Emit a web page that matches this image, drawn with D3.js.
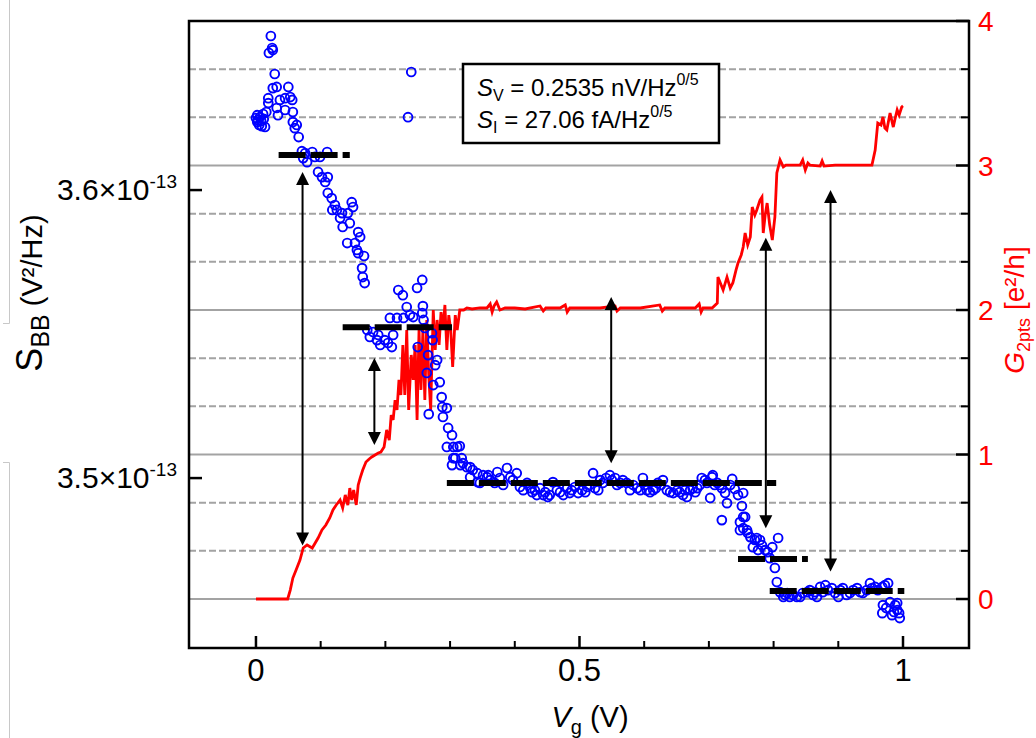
<!DOCTYPE html>
<html><head><meta charset="utf-8">
<script src="https://cdn.jsdelivr.net/npm/d3@7"></script>
<style>body{margin:0;background:#fff;} svg{display:block}</style>
</head><body>
<svg id="chart" width="1036" height="738"></svg>
<script>
// ---- data (S_BB in units of 1e-13 V^2/Hz, G in e^2/h, Vg in V) ----
const vgBlue = [0.000,0.002,0.002,0.003,0.005,0.006,0.008,0.009,0.011,0.012,0.014,0.016,
0.019,0.019,0.020,0.023,0.025,0.026,0.026,0.029,0.032,0.032,0.034,0.037,0.045,0.045,0.050,0.053,0.056,0.057,0.057,0.060,0.063,0.066,0.071,0.073,0.076,0.079,0.087,0.091,0.096,0.099,0.102,0.107,0.110,0.111,0.111,0.117,0.118,0.122,0.125,0.130,0.133,0.134,0.141,0.142,0.145,0.148,0.150,0.153,0.156,0.158,0.158,0.161,0.164,0.165,0.167,0.168,
0.172,0.176,0.181,0.187,0.189,0.192,0.199,0.204,0.207,0.210,0.212,0.218,0.220,0.227,0.228,0.233,0.235,0.238,0.240,0.243,0.249,0.250,0.257,0.257,0.258,0.259,0.261,0.264,0.266,0.267,0.272,0.273,0.274,0.277,0.280,0.284,0.287,0.288,0.289,0.295,0.295,0.297,0.303,0.303,0.305,0.305,0.308,0.311,0.315,0.316,0.318,0.320,0.326,0.331,0.331,0.335,
0.342,0.343,0.346,0.351,0.357,0.359,0.362,0.369,0.373,0.377,0.382,0.388,0.393,0.397,0.403,0.408,0.413,0.419,0.424,0.427,0.431,0.434,0.439,0.444,0.447,0.451,0.454,0.459,0.465,0.470,0.475,0.481,0.485,0.488,0.493,0.498,0.504,0.509,0.512,0.516,0.521,0.524,0.529,0.532,0.536,0.541,0.547,0.550,0.555,0.558,0.563,0.567,0.573,0.578,0.583,0.589,0.594,0.598,0.601,0.604,0.609,0.614,0.618,0.621,0.626,0.629,0.635,0.640,0.645,0.651,0.655,0.660,0.663,0.666,0.671,0.675,0.679,0.682,0.686,0.689,0.694,0.697,0.702,0.705,0.706,0.709,0.713,0.717,0.720,0.720,0.725,0.728,0.733,0.736,0.740,0.745,
0.748,0.748,0.751,0.753,0.753,0.753,0.756,0.759,0.760,0.764,0.768,0.771,0.774,0.776,0.779,0.782,0.787,0.791,0.794,0.798,0.802,0.805,0.807,0.810,0.815,0.818,0.821,0.825,0.830,0.836,0.841,0.845,0.852,0.856,0.861,0.864,0.867,0.872,0.876,0.880,0.884,0.890,0.895,0.900,0.903,0.907,0.913,0.918,0.923,0.929,0.934,0.938,0.944,0.949,0.952,0.957,0.961,0.968,0.968,0.969,0.972,0.974,0.977,0.980,0.983,0.986,0.988,0.991,0.991,0.994,0.995];
const sBB = [3.6250,3.6236,3.6260,3.6243,3.6226,3.6253,3.6240,3.6222,3.6264,3.6247,3.6219,3.6271,
3.6319,3.6302,3.6476,3.6535,3.6493,3.6486,3.6354,3.6403,3.6358,3.6285,3.6260,3.6313,3.6319,3.6278,3.6358,3.6323,3.6313,3.6271,3.6236,3.6215,3.6226,3.6184,3.6135,3.6111,3.6128,3.6097,3.6132,3.6115,3.6063,3.6115,3.6045,3.6028,3.6132,3.6045,3.5990,3.5972,3.5931,3.5948,3.5931,3.5903,3.5920,3.5872,3.5816,3.5920,3.5885,3.5958,3.5941,3.5816,3.5792,3.5854,3.5781,3.5837,3.5729,3.5698,3.5771,3.5677,
3.5514,3.5490,3.5507,3.5479,3.5497,3.5462,3.5479,3.5469,3.5556,3.5455,3.5497,3.5556,3.5653,3.5635,3.5556,3.5594,3.6253,3.5566,3.6410,3.5559,3.5660,3.5455,3.5688,3.5573,3.5597,3.5549,3.5521,3.5365,3.5427,3.5222,3.5503,3.5479,3.5323,3.5392,3.5410,3.5333,3.5281,3.5247,3.5212,3.5243,3.5108,3.5174,3.5149,3.5045,3.5108,3.5069,3.5069,3.5108,3.5111,3.5045,3.5069,3.5052,3.5038,3.5038,3.5003,3.5028,
3.5017,3.4986,3.4983,3.5010,3.5003,3.5010,3.4993,3.4983,3.5021,3.5000,3.4976,3.5035,3.5003,3.4993,3.5017,3.4969,3.4958,3.4983,3.4965,3.4951,3.4958,3.4941,3.4965,3.4941,3.4951,3.4934,3.4941,3.4986,3.4958,3.4951,3.4941,3.4965,3.4948,3.4958,3.4969,3.4948,3.4958,3.4951,3.4969,3.4976,3.5017,3.4965,3.4958,3.4993,3.4983,3.5000,3.5010,3.4993,3.5000,3.4976,3.4983,3.4993,3.4983,3.4958,3.4976,3.4965,3.4958,3.5000,3.4976,3.4958,3.4951,3.4958,3.4965,3.4983,3.4976,3.4993,3.4958,3.4951,3.4948,3.4958,3.4951,3.4941,3.4958,3.4934,3.4958,3.4965,3.4951,3.4965,3.4976,3.5000,3.4993,3.4983,3.4931,3.5003,3.5010,3.4976,3.4983,3.4976,3.4965,3.4854,3.4948,3.4913,3.4976,3.4997,3.4962,3.4941,
3.4847,3.4819,3.4903,3.4948,3.4865,3.4826,3.4865,3.4819,3.4809,3.4795,3.4760,3.4785,3.4792,3.4750,3.4785,3.4767,3.4750,3.4743,3.4722,3.4760,3.4688,3.4639,3.4792,3.4604,3.4587,3.4594,3.4601,3.4587,3.4594,3.4587,3.4587,3.4601,3.4604,3.4611,3.4594,3.4604,3.4587,3.4622,3.4604,3.4628,3.4611,3.4618,3.4601,3.4587,3.4611,3.4618,3.4594,3.4601,3.4611,3.4618,3.4604,3.4601,3.4611,3.4635,3.4618,3.4622,3.4611,3.4622,3.4531,3.4559,3.4628,3.4549,3.4635,3.4569,3.4524,3.4535,3.4559,3.4566,3.4542,3.4531,3.4514];

const vgRed = [0.000,0.049,0.053,0.057,0.062,0.068,0.073,0.079,0.087,0.096,0.102,0.108,0.114,0.119,0.124,0.130,0.134,0.138,0.142,0.145,0.148,0.151,0.155,0.158,0.161,0.165,0.170,0.175,0.179,0.184,0.189,0.193,0.198,0.202,0.206,0.209,0.212,0.215,0.218,0.221,0.224,0.227,0.230,0.233,0.236,0.240,0.243,0.246,0.249,0.252,0.255,0.258,0.261,0.264,0.267,0.270,0.274,0.277,0.280,0.283,0.286,0.289,0.292,0.295,0.298,0.301,0.304,0.308,0.311,0.315,0.321,0.326,0.334,0.346,0.357,0.362,0.365,0.368,0.372,0.377,0.385,0.400,0.416,0.439,0.444,0.448,0.470,0.478,0.481,0.485,0.532,0.555,0.558,0.563,0.594,0.624,0.628,0.632,0.679,0.685,0.688,0.691,0.705,0.713,0.714,0.722,0.728,0.733,0.737,0.742,0.745,0.750,0.753,0.756,0.760,0.764,0.767,0.771,0.774,0.779,0.782,0.784,0.787,0.790,0.794,0.798,0.802,0.805,0.810,0.815,0.819,0.841,0.845,0.849,0.853,0.856,0.872,0.875,0.878,0.895,0.918,0.952,0.957,0.961,0.966,0.969,0.972,0.975,0.980,0.985,0.988,0.991,0.994,0.998,1.000];
const g2pts = [0.000,0.000,0.062,0.145,0.201,0.270,0.353,0.374,0.353,0.422,0.478,0.512,0.561,0.616,0.651,0.685,0.630,0.720,0.650,0.768,0.685,0.754,0.651,0.789,0.837,0.893,0.948,0.969,0.983,0.997,1.010,1.017,1.052,1.170,1.100,1.273,1.239,1.377,1.308,1.516,1.412,1.758,1.412,1.862,1.308,1.689,1.516,1.758,1.239,1.862,1.447,1.862,1.377,1.931,1.550,1.308,2.000,1.723,1.931,1.758,1.986,1.862,2.035,1.723,1.965,1.862,1.606,1.965,1.862,2.000,2.000,2.014,2.007,2.014,2.014,2.042,1.986,2.028,2.055,2.000,2.014,2.014,2.007,2.028,1.993,2.014,2.014,2.035,1.986,2.014,2.014,2.028,1.993,2.014,2.014,2.035,1.993,2.014,2.014,2.042,1.986,2.014,2.014,2.048,2.228,2.138,2.228,2.152,2.187,2.277,2.325,2.381,2.436,2.533,2.450,2.505,2.713,2.657,2.692,2.761,2.782,2.533,2.657,2.740,2.588,2.484,2.644,2.948,3.038,2.990,3.003,3.003,3.038,2.969,3.017,3.003,2.996,3.031,2.996,3.003,3.003,3.003,3.107,3.294,3.280,3.336,3.259,3.246,3.363,3.266,3.329,3.384,3.349,3.405,3.412];

const levelStart = [0.035, 0.134, 0.295, 0.745, 0.794];
const levelEnd   = [0.145, 0.303, 0.804, 0.853, 1.002];
const levelS     = [3.6122, 3.5524, 3.4983, 3.4719, 3.4608];

const arrowX       = [0.072, 0.183, 0.549, 0.788, 0.888];
const arrowTopG    = [2.955, 1.668, 2.090, 2.500, 2.830];
const arrowBottomG = [0.370, 1.066, 0.940, 0.490, 0.190];

const leftTickValues  = [3.5, 3.6];
const leftTickLabels  = ["3.5", "3.6"];
const rightTickValues = [0, 1, 2, 3, 4];
const rightMinor      = [1/3, 2/3, 4/3, 5/3, 7/3, 8/3, 10/3, 11/3];
const xTickValues     = [0, 0.5, 1];
const xTickLabels     = ["0", "0.5", "1"];
const xMinor          = [0.1, 0.2, 0.3, 0.4, 0.6, 0.7, 0.8, 0.9];
const gridSolid       = [0, 1, 2, 3];
const gridDashed      = [1/3, 2/3, 4/3, 5/3, 7/3, 8/3, 10/3, 11/3];

// ---- layout ----
const L = 189, R = 969, T = 21, B = 648;
const svg = d3.select("#chart");
const x  = d3.scaleLinear().domain([-0.1035, 1.102]).range([L, R]);
const yL = d3.scaleLinear().domain([3.4410, 3.6587]).range([B, T]);
const yR = d3.scaleLinear().domain([-0.339, 4.0]).range([B, T]);
const FONT = "'Liberation Sans', Arial, sans-serif";
const NARROW = "'Liberation Sans Narrow', " + FONT;

// scan artifacts on the left edge
const art = svg.append("g").attr("stroke", "#c8c8c8").attr("stroke-width", 1).attr("fill", "none");
art.append("path").attr("d", "M9.5,0 V323.5 H3");
art.append("path").attr("d", "M3,462.5 H9.5 V738");

// grid
const grid = svg.append("g");
grid.selectAll("line.s").data(gridSolid).join("line")
  .attr("x1", L).attr("x2", R).attr("y1", d => yR(d)).attr("y2", d => yR(d))
  .attr("stroke", "#a3a3a3").attr("stroke-width", 2);
grid.selectAll("line.d").data(gridDashed).join("line")
  .attr("x1", L).attr("x2", R).attr("y1", d => yR(d)).attr("y2", d => yR(d))
  .attr("stroke", "#a3a3a3").attr("stroke-width", 2).attr("stroke-dasharray", "7,3");

// red conductance line
const redData = vgRed.map((v, i) => [v, g2pts[i]]);
svg.append("path").datum(redData)
  .attr("d", d3.line().x(d => x(d[0])).y(d => yR(d[1])))
  .attr("fill", "none").attr("stroke", "#ff0000").attr("stroke-width", 2.8).attr("stroke-linejoin", "miter");

// blue circles
const blueData = vgBlue.map((v, i) => [v, sBB[i]]);
svg.append("g").selectAll("circle").data(blueData).join("circle")
  .attr("cx", d => x(d[0])).attr("cy", d => yL(d[1])).attr("r", 4.4)
  .attr("fill", "none").attr("stroke", "#0000ff").attr("stroke-width", 1.9);

// level dashed black lines
svg.append("g").selectAll("line").data(levelS).join("line")
  .attr("x1", (d, i) => x(levelStart[i])).attr("x2", (d, i) => x(levelEnd[i]))
  .attr("y1", d => yL(d)).attr("y2", d => yL(d))
  .attr("stroke", "#000").attr("stroke-width", 6).attr("stroke-dasharray", "27,5");

// double arrows
const ag = svg.append("g");
arrowX.forEach((v, i) => {
  const xa = x(v), y1 = yR(arrowTopG[i]), y2 = yR(arrowBottomG[i]);
  const hl = 13, hw = 6.5;
  ag.append("line").attr("x1", xa).attr("x2", xa).attr("y1", y1 + hl - 2).attr("y2", y2 - hl + 2)
    .attr("stroke", "#000").attr("stroke-width", 2);
  ag.append("path").attr("d", `M${xa},${y1} L${xa - hw},${y1 + hl} L${xa + hw},${y1 + hl} Z`).attr("fill", "#000");
  ag.append("path").attr("d", `M${xa},${y2} L${xa - hw},${y2 - hl} L${xa + hw},${y2 - hl} Z`).attr("fill", "#000");
});

// frame
svg.append("rect").attr("x", L).attr("y", T).attr("width", R - L).attr("height", B - T)
  .attr("fill", "none").attr("stroke", "#000").attr("stroke-width", 2.5);

// left ticks (inward)
svg.append("g").selectAll("line").data(leftTickValues).join("line")
  .attr("x1", L).attr("x2", L + 13).attr("y1", d => yL(d)).attr("y2", d => yL(d))
  .attr("stroke", "#000").attr("stroke-width", 2.5);
const lt = svg.append("g").selectAll("text").data(leftTickValues).join("text")
  .attr("x", 177).attr("y", d => yL(d) + 10).attr("text-anchor", "end")
  .attr("font-family", FONT).attr("font-size", 30).attr("fill", "#000");
lt.append("tspan").text((d, i) => leftTickLabels[i] + "\u00d710");
lt.append("tspan").attr("dy", -12).attr("font-size", 19).text("-13");

// right ticks
svg.append("g").selectAll("line").data(rightTickValues).join("line")
  .attr("x1", R - 13).attr("x2", R).attr("y1", d => yR(d)).attr("y2", d => yR(d))
  .attr("stroke", "#000").attr("stroke-width", 2.5);
svg.append("g").selectAll("line").data(rightMinor).join("line")
  .attr("x1", R - 8).attr("x2", R).attr("y1", d => yR(d)).attr("y2", d => yR(d))
  .attr("stroke", "#000").attr("stroke-width", 2);
svg.append("g").selectAll("text").data(rightTickValues).join("text")
  .attr("x", 978).attr("y", d => yR(d) + 10).attr("text-anchor", "start")
  .attr("font-family", FONT).attr("font-size", 28).attr("fill", "#ff0000").text(d => d);

// bottom ticks
svg.append("g").selectAll("line").data(xTickValues).join("line")
  .attr("x1", d => x(d)).attr("x2", d => x(d)).attr("y1", B).attr("y2", B - 12)
  .attr("stroke", "#000").attr("stroke-width", 2.5);
svg.append("g").selectAll("line").data(xMinor).join("line")
  .attr("x1", d => x(d)).attr("x2", d => x(d)).attr("y1", B).attr("y2", B - 7)
  .attr("stroke", "#000").attr("stroke-width", 2);
svg.append("g").selectAll("text").data(xTickValues).join("text")
  .attr("x", d => x(d)).attr("y", 681).attr("text-anchor", "middle")
  .attr("font-family", NARROW).attr("font-size", 31).attr("fill", "#000")
  .text((d, i) => xTickLabels[i]);

// x title
const xt = svg.append("text").attr("x", 590).attr("y", 727).attr("text-anchor", "middle")
  .attr("font-family", NARROW).attr("font-size", 29).attr("fill", "#000");
xt.append("tspan").attr("font-style", "italic").text("V");
xt.append("tspan").attr("dy", 7).attr("font-size", 20).text("g");
xt.append("tspan").attr("dy", -7).text(" (V)");

// left title
const yt = svg.append("text").attr("transform", "translate(42,293) rotate(-90)").attr("text-anchor", "middle")
  .attr("font-family", NARROW).attr("font-size", 36).attr("fill", "#000");
yt.append("tspan").text("S");
yt.append("tspan").attr("dy", 7).attr("font-size", 25).text("BB");
yt.append("tspan").attr("dy", -7).attr("font-size", 29).text(" (V\u00b2/Hz)");

// right title
const rt = svg.append("text").attr("transform", "translate(1024,310) rotate(-90)").attr("text-anchor", "middle")
  .attr("font-family", FONT).attr("font-size", 28).attr("fill", "#ff0000");
rt.append("tspan").attr("font-style", "italic").text("G");
rt.append("tspan").attr("dy", 6).attr("font-size", 18).text("2pts");
rt.append("tspan").attr("dy", -6).text(" [e\u00b2/h]");

// info box
const box = svg.append("g");
box.append("rect").attr("x", 463).attr("y", 64).attr("width", 256).attr("height", 79)
  .attr("fill", "#fff").attr("stroke", "#000").attr("stroke-width", 2.5);
const l1 = box.append("text").attr("x", 477).attr("y", 96).attr("font-family", FONT).attr("font-size", 24).attr("fill", "#000");
l1.append("tspan").attr("font-style", "italic").text("S");
l1.append("tspan").attr("dy", 5).attr("font-size", 16).text("V");
l1.append("tspan").attr("dy", -5).text(" = 0.2535 nV/Hz");
l1.append("tspan").attr("dy", -11).attr("font-size", 16).text("0/5");
const l2 = box.append("text").attr("x", 477).attr("y", 128).attr("font-family", FONT).attr("font-size", 24).attr("fill", "#000");
l2.append("tspan").attr("font-style", "italic").text("S");
l2.append("tspan").attr("dy", 5).attr("font-size", 16).text("I");
l2.append("tspan").attr("dy", -5).text(" = 27.06 fA/Hz");
l2.append("tspan").attr("dy", -11).attr("font-size", 16).text("0/5");
</script>
</body></html>
